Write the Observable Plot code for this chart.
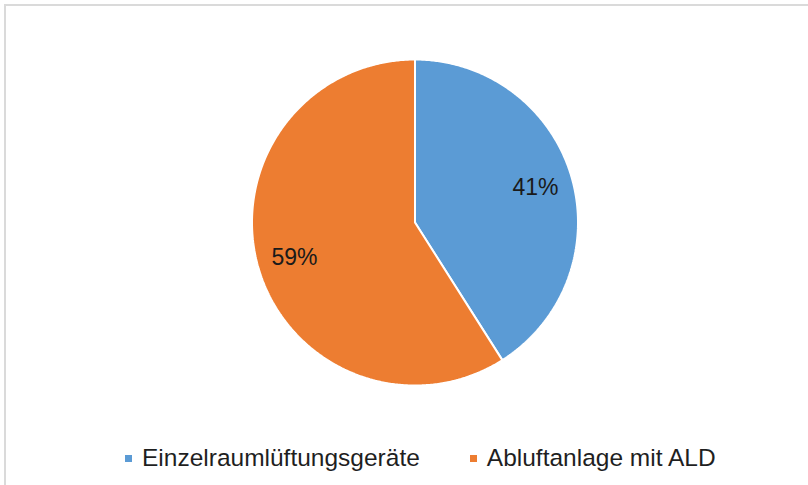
<!DOCTYPE html>
<html>
<head>
<meta charset="utf-8">
<script src="https://cdn.jsdelivr.net/npm/d3@7"></script>
<script src="https://cdn.jsdelivr.net/npm/@observablehq/plot@0.6"></script>
<style>
  html, body { margin: 0; padding: 0; background: #fff; }
  body { width: 808px; height: 485px; position: relative; overflow: hidden; font-family: "Liberation Sans", Arial, sans-serif; }
  #chart { position: absolute; left: 0; top: 0; }
  #frame { position: absolute; left: 4px; top: 4px; width: 900px; height: 600px; border-left: 2px solid #dadada; border-top: 2px solid #dadada; z-index: 2; pointer-events: none; }
  #legend { position: absolute; left: 125px; top: 446px; display: flex; align-items: center; font-size: 24.5px; line-height: 24.5px; color: #1f1f1f; white-space: nowrap; }
  .item { display: flex; align-items: center; }
  .sw { width: 7px; height: 7px; margin-right: 10px; }
  .item + .item { margin-left: 50px; }
</style>
</head>
<body>
<div id="chart"></div>
<div id="frame"></div>
<div id="legend"></div>
<script>
const categories = ["Einzelraumlüftungsgeräte", "Abluftanlage mit ALD"];
const shares = [41, 59];
const labels = ["41%", "59%"];
const colors = ["#5b9bd5", "#ed7d31"];

const arcs = d3.pie().sort(null)(shares);
const outline = [];
const labelPts = [];
arcs.forEach((a, i) => {
  const cat = categories[i];
  outline.push({cat, x: 0, y: 0});
  const n = Math.max(2, Math.ceil((a.endAngle - a.startAngle) / (Math.PI / 360)));
  for (let k = 0; k <= n; k++) {
    const t = a.startAngle + (a.endAngle - a.startAngle) * k / n;
    outline.push({cat, x: Math.sin(t), y: Math.cos(t)});
  }
  const mid = (a.startAngle + a.endAngle) / 2;
  labelPts.push({cat, label: labels[i], x: 0.77 * Math.sin(mid), y: 0.77 * Math.cos(mid)});
});

const plot = Plot.plot({
  width: 808,
  height: 430,
  margin: 0,
  style: {background: "transparent", fontFamily: "'Liberation Sans', Arial, sans-serif"},
  x: {domain: [-1, 1], range: [414.5 - 163, 414.5 + 163], axis: null},
  y: {domain: [-1, 1], range: [222 + 163, 222 - 163], axis: null},
  color: {domain: categories, range: colors},
  marks: [
    Plot.line(outline, {x: "x", y: "y", z: "cat", fill: "cat", stroke: "white", strokeWidth: 2, curve: "linear-closed", strokeLinejoin: "miter"}),
    Plot.text(labelPts, {x: "x", y: "y", text: "label", fontSize: 23, fill: "#1a1a1a"})
  ]
});
document.getElementById("chart").appendChild(plot);

const legend = document.getElementById("legend");
categories.forEach((c, i) => {
  const item = document.createElement("div");
  item.className = "item";
  const sw = document.createElement("span");
  sw.className = "sw";
  sw.style.background = colors[i];
  const tx = document.createElement("span");
  tx.textContent = c;
  item.appendChild(sw);
  item.appendChild(tx);
  legend.appendChild(item);
});
</script>
</body>
</html>
